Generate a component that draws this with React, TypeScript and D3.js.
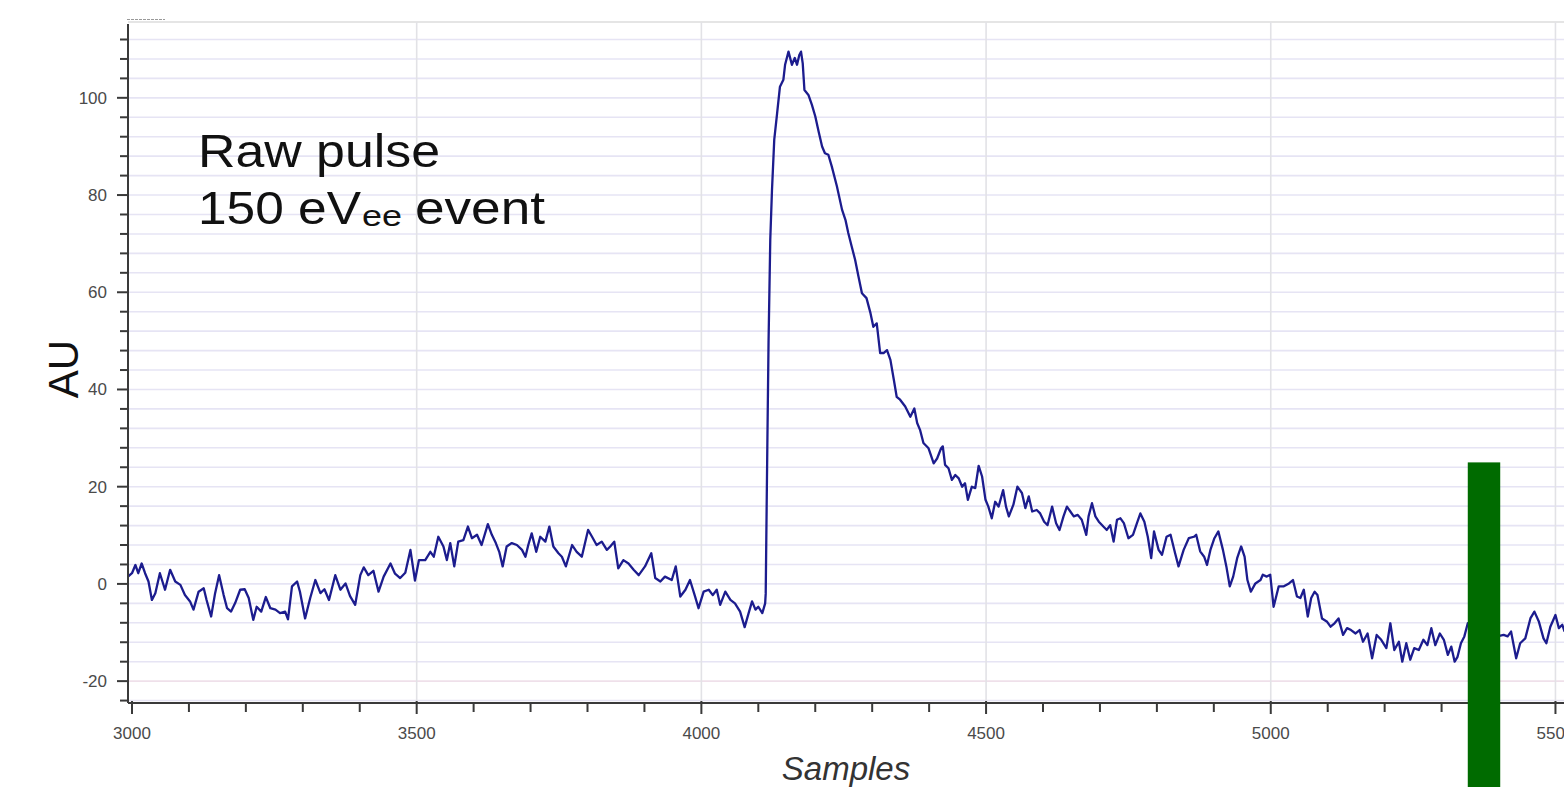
import React, { useCallback, useEffect, useRef } from 'react';
import * as d3 from 'd3';

// samples, [sample, AU]
const preTrigger: [number, number][] = [
  [2993, 1.5], [3000, 2.2], [3006, 3.9], [3011, 2.2], [3017, 4.2], [3023, 2.2], [3029, 0.5], [3035, -3.3],
  [3041, -1.9], [3049, 2.2], [3058, -1.2], [3067, 2.9], [3076, 0.5], [3085, -0.2], [3093, -2.3], [3102, -3.6],
  [3108, -5.3], [3117, -1.6], [3126, -0.9], [3131, -3.3], [3139, -6.7], [3146, -1.9], [3153, 1.8], [3161, -2.3],
  [3167, -5], [3174, -5.7], [3181, -4], [3190, -1.2], [3198, -1.1], [3205, -2.9], [3213, -7.4], [3219, -4.7],
  [3227, -5.7], [3235, -2.7], [3243, -5], [3252, -5.3], [3260, -6], [3269, -5.7], [3274, -7.3], [3281, -0.5],
  [3290, 0.5], [3295, -1.6], [3304, -7.1], [3313, -2.9], [3322, 0.8], [3331, -1.9], [3338, -1.1], [3346, -3.3],
  [3357, 1.8], [3366, -1.2], [3375, 0.1], [3383, -2.5], [3392, -4.3], [3401, 1.8], [3407, 3.4], [3415, 1.8],
  [3424, 2.7], [3433, -1.6], [3442, 1.5], [3454, 4.2], [3462, 2.1], [3471, 1.2], [3480, 2.3], [3489, 7],
  [3497, 0.7], [3504, 4.9], [3515, 4.9], [3524, 6.6], [3530, 5.6], [3538, 9.7], [3547, 7.7], [3553, 4.9],
  [3559, 8.4], [3566, 3.6], [3573, 8.7], [3582, 9], [3590, 11.8], [3597, 9.4], [3606, 10.1], [3614, 8],
  [3625, 12.3], [3632, 10.1], [3639, 8.4], [3645, 6.6], [3651, 3.6], [3658, 7.7], [3667, 8.4], [3676, 8],
  [3685, 7], [3691, 5.6], [3696, 8], [3702, 10.4], [3710, 6.6], [3717, 9.7], [3726, 8.7], [3733, 11.8],
  [3740, 7.7], [3749, 6.3], [3755, 5.6], [3762, 3.6], [3773, 8], [3781, 6.6], [3790, 5.6], [3801, 11.1],
  [3808, 9.7], [3816, 8], [3825, 8.7], [3834, 7], [3840, 7.7], [3847, 8.7], [3854, 3.2], [3863, 4.9],
  [3872, 4.2], [3881, 2.9], [3890, 1.8], [3901, 3.6], [3912, 6.3], [3919, 1.2], [3928, 0.5], [3936, 1.5],
  [3948, 0.8], [3955, 3.6], [3963, -2.6], [3972, -1.2], [3980, 0.8], [3989, -2.6], [3995, -5], [4004, -1.6],
  [4013, -1.2], [4020, -2.3], [4027, -1.2], [4033, -4.3], [4042, -1.6], [4051, -3.3], [4059, -4], [4068, -5.7],
  [4076, -8.9], [4083, -6], [4089, -3.6], [4095, -5.3], [4100, -4.7], [4107, -6], [4112, -4],
];

const rise: [number, number][] = [
  [4113, -2], [4114, 9], [4116, 30], [4118, 50], [4121, 70.8], [4124, 81], [4128, 91.4], [4133, 96.8],
  [4138, 102.3], [4144, 103.7], [4147, 106.8], [4153, 109.5], [4159, 106.8], [4164, 108.2], [4168, 106.8],
  [4172, 108.8], [4175, 109.5], [4178, 107.1], [4181, 101.6],
];

const decay: [number, number][] = [
  [4188, 100.6], [4194, 98.6], [4200, 96.2], [4206, 93], [4212, 90], [4217, 88.6], [4223, 88.3], [4229, 85.9],
  [4238, 81.8], [4247, 77], [4253, 74.9], [4258, 72.2], [4264, 69.4], [4270, 66.7], [4276, 63.2], [4282, 59.8],
  [4290, 58.8], [4297, 55.7], [4302, 52.9], [4308, 53.6], [4314, 47.5], [4320, 47.5], [4326, 48.1], [4332, 46.1],
  [4338, 42], [4343, 38.5], [4349, 37.9], [4358, 36.5], [4367, 34.4], [4374, 36.1], [4379, 33.1], [4384, 31.7],
  [4390, 29], [4399, 27.9], [4408, 24.8], [4414, 25.8], [4421, 27.9], [4424, 28.3], [4428, 24.5], [4434, 23.8],
  [4440, 21.4], [4446, 22.4], [4452, 21.7], [4458, 20], [4463, 20.7], [4468, 17.3], [4475, 20], [4481, 19.7],
  [4487, 24.3], [4493, 22.1], [4499, 17.3], [4504, 15.9],
];

const tail: [number, number][] = [
  [4510, 13.5], [4516, 16.9], [4522, 15.9], [4530, 19.3], [4535, 15.9], [4540, 13.9], [4548, 16.3], [4555, 20],
  [4563, 18.7], [4569, 15.6], [4575, 18], [4581, 14.9], [4589, 15.2], [4595, 14.5], [4602, 12.8], [4608, 12.1],
  [4616, 15.9], [4623, 12.5], [4629, 11.1], [4636, 13.9], [4642, 15.9], [4648, 14.9], [4654, 13.9], [4661, 14.2],
  [4668, 13.2], [4676, 10.1], [4680, 13.9], [4686, 16.6], [4692, 13.9], [4698, 12.8], [4706, 11.8], [4712, 11.1],
  [4718, 12.1], [4724, 8.7], [4730, 13.2], [4736, 13.5], [4742, 12.5], [4750, 9.4], [4758, 10.1], [4765, 12.5],
  [4771, 14.5], [4778, 12.8], [4784, 9.7], [4790, 5.3], [4795, 10.8], [4803, 7], [4809, 6], [4817, 9.7],
  [4824, 10.1], [4832, 6.3], [4838, 3.6], [4847, 7], [4856, 9.4], [4865, 9.7], [4869, 10.1], [4876, 6.7],
  [4883, 5.6], [4888, 3.9], [4894, 7], [4901, 9.4], [4908, 10.8], [4916, 7], [4922, 3.6], [4928, -0.5],
  [4934, 1.5], [4941, 5.3], [4948, 7.7], [4954, 5.6], [4959, 0.8], [4965, -1.6], [4973, 0.1], [4982, 0.8],
  [4986, 1.9], [4993, 1.5], [4999, 1.9], [5005, -4.7], [5014, -0.5], [5023, -0.5], [5032, 0.1], [5039, 0.8],
  [5046, -2.6], [5052, -2.9], [5058, -1.2], [5065, -6.7], [5071, -2.9], [5077, -1.6], [5082, -2.3], [5090, -7.1],
  [5099, -7.8], [5105, -8.8], [5112, -8.1], [5119, -7.1], [5127, -10.5], [5134, -9.1], [5141, -9.5], [5149, -10.2],
  [5156, -9.5], [5162, -11.9], [5170, -10.2], [5178, -15.3], [5186, -10.5], [5194, -11.5], [5203, -13.2], [5210, -8.1],
  [5217, -13.6], [5225, -11.9], [5231, -16], [5238, -12.2], [5245, -15.6], [5252, -13.2], [5260, -13.6], [5268, -11.5],
  [5275, -12.6], [5282, -9.1], [5289, -12.6], [5297, -10.2], [5304, -11.5], [5311, -14.6], [5317, -12.9], [5323, -16],
  [5328, -15], [5334, -12.2], [5340, -10.8], [5346, -8.1], [5360, -10], [5375, -8], [5390, -11], [5409, -10.5],
  [5416, -10.8], [5422, -9.8], [5431, -15.3], [5438, -12.2], [5447, -11.2], [5456, -7.1], [5463, -5.7], [5471, -7.8],
  [5479, -11.2], [5484, -12.2], [5491, -8.8], [5500, -6.4], [5506, -9.1], [5512, -8.4], [5516, -9.8],
];

const xMajor = [3000, 3500, 4000, 4500, 5000, 5500];
const yMajor = [-20, 0, 20, 40, 60, 80, 100];
const xDomain: [number, number] = [2993, 5515];
const yDomain: [number, number] = [-24.5, 115.6];

// green marker bar, in samples / AU
const markerSpan: [number, number] = [5346, 5403];
const markerTop = 25;

const W = 1564;
const H = 787;

const PulseChart = () => {
  const svgRef = useRef<SVGSVGElement>(null);

  const drawChart = useCallback(() => {
    const svg = d3.select(svgRef.current);
    svg.selectAll('*').remove();

    const left = 128;
    const right = W;
    const top = 22;
    const bottom = 703;

    const x = d3.scaleLinear().domain(xDomain).range([left, right]);
    const y = d3.scaleLinear().domain(yDomain).range([bottom, top]);

    svg.append('rect').attr('width', W).attr('height', H).attr('fill', '#fff');

    const minorY = d3.range(-24, 113, 4);
    const minorX = d3.range(3000, 5501, 100);

    // grid
    const grid = svg.append('g');
    grid
      .selectAll('line.h')
      .data(minorY)
      .enter()
      .append('line')
      .attr('x1', left)
      .attr('x2', right)
      .attr('y1', (d) => y(d))
      .attr('y2', (d) => y(d))
      .attr('stroke', (d) => (d === -20 ? '#efe0ea' : '#e6e4f4'))
      .attr('stroke-width', 1.6);
    grid
      .append('line')
      .attr('x1', left)
      .attr('x2', right)
      .attr('y1', top)
      .attr('y2', top)
      .attr('stroke', '#dcdcdc')
      .attr('stroke-width', 1.5);
    grid
      .selectAll('line.v')
      .data(xMajor.filter((d) => d > 3000))
      .enter()
      .append('line')
      .attr('x1', (d) => x(d))
      .attr('x2', (d) => x(d))
      .attr('y1', top)
      .attr('y2', bottom)
      .attr('stroke', '#e2e2e6')
      .attr('stroke-width', 1.6);

    // small dashed mark at top-left corner
    svg
      .append('line')
      .attr('x1', 127)
      .attr('x2', 165)
      .attr('y1', 19.5)
      .attr('y2', 19.5)
      .attr('stroke', '#999')
      .attr('stroke-dasharray', '3,1')
      .attr('stroke-width', 1);

    // trace
    const trace = [...preTrigger, ...rise, ...decay, ...tail];
    svg
      .append('clipPath')
      .attr('id', 'plot-clip')
      .append('rect')
      .attr('x', left)
      .attr('y', top)
      .attr('width', right - left)
      .attr('height', bottom - top);
    const line = d3
      .line<[number, number]>()
      .x((d) => x(d[0]))
      .y((d) => y(d[1]));
    svg
      .append('path')
      .datum(trace)
      .attr('clip-path', 'url(#plot-clip)')
      .attr('d', line)
      .attr('fill', 'none')
      .attr('stroke', '#1c1c8e')
      .attr('stroke-width', 2.3)
      .attr('stroke-linejoin', 'round');

    // axes
    const axisColor = '#3a3a3a';
    const labelColor = '#4a4a4a';
    const yAxis = svg.append('g');
    yAxis
      .append('line')
      .attr('x1', left)
      .attr('x2', left)
      .attr('y1', top + 2)
      .attr('y2', bottom)
      .attr('stroke', axisColor)
      .attr('stroke-width', 2);
    yAxis
      .selectAll('line.t')
      .data(minorY)
      .enter()
      .append('line')
      .attr('x1', (d) => (yMajor.includes(d) ? left - 11 : left - 8))
      .attr('x2', left)
      .attr('y1', (d) => y(d))
      .attr('y2', (d) => y(d))
      .attr('stroke', axisColor)
      .attr('stroke-width', 2);
    yAxis
      .selectAll('text')
      .data(yMajor)
      .enter()
      .append('text')
      .attr('x', 107)
      .attr('y', (d) => y(d) + 6)
      .attr('text-anchor', 'end')
      .attr('font-family', 'Liberation Sans, Arial, sans-serif')
      .attr('font-size', 17)
      .attr('fill', labelColor)
      .text((d) => d);

    const xAxis = svg.append('g');
    xAxis
      .append('line')
      .attr('x1', left)
      .attr('x2', right)
      .attr('y1', bottom)
      .attr('y2', bottom)
      .attr('stroke', axisColor)
      .attr('stroke-width', 2.2);
    xAxis
      .selectAll('line.t')
      .data(minorX)
      .enter()
      .append('line')
      .attr('x1', (d) => x(d))
      .attr('x2', (d) => x(d))
      .attr('y1', (d) => (xMajor.includes(d) ? bottom - 2 : bottom))
      .attr('y2', (d) => (xMajor.includes(d) ? bottom + 11 : bottom + 9))
      .attr('stroke', axisColor)
      .attr('stroke-width', 2);
    xAxis
      .selectAll('text')
      .data(xMajor)
      .enter()
      .append('text')
      .attr('x', (d) => x(d))
      .attr('y', 739)
      .attr('text-anchor', 'middle')
      .attr('font-family', 'Liberation Sans, Arial, sans-serif')
      .attr('font-size', 17)
      .attr('fill', labelColor)
      .text((d) => d);

    // axis titles
    svg
      .append('text')
      .attr('transform', 'translate(78,369) rotate(-90)')
      .attr('text-anchor', 'middle')
      .attr('font-family', 'Liberation Sans, Arial, sans-serif')
      .attr('font-size', 42)
      .attr('fill', '#111')
      .text('AU');
    svg
      .append('text')
      .attr('x', 846)
      .attr('y', 780)
      .attr('text-anchor', 'middle')
      .attr('font-family', 'Liberation Sans, Arial, sans-serif')
      .attr('font-style', 'italic')
      .attr('font-size', 33)
      .attr('fill', '#333')
      .text('Samples');

    // annotation
    const note = svg.append('g').attr('font-family', 'Liberation Sans, Arial, sans-serif').attr('fill', '#111');
    note
      .append('text')
      .attr('x', 198)
      .attr('y', 167)
      .attr('font-size', 46)
      .attr('textLength', 242)
      .attr('lengthAdjust', 'spacingAndGlyphs')
      .text('Raw pulse');
    note
      .append('text')
      .attr('x', 198)
      .attr('y', 224)
      .attr('font-size', 46)
      .attr('textLength', 163)
      .attr('lengthAdjust', 'spacingAndGlyphs')
      .text('150 eV');
    note
      .append('text')
      .attr('x', 362)
      .attr('y', 226)
      .attr('font-size', 30)
      .attr('textLength', 40)
      .attr('lengthAdjust', 'spacingAndGlyphs')
      .text('ee');
    note
      .append('text')
      .attr('x', 415)
      .attr('y', 224)
      .attr('font-size', 46)
      .attr('textLength', 130)
      .attr('lengthAdjust', 'spacingAndGlyphs')
      .text('event');

    // green marker
    svg
      .append('rect')
      .attr('x', x(markerSpan[0]))
      .attr('y', y(markerTop))
      .attr('width', x(markerSpan[1]) - x(markerSpan[0]))
      .attr('height', H - y(markerTop))
      .attr('fill', '#006b00');
  }, []);

  useEffect(() => {
    drawChart();
  }, [drawChart]);

  return <svg ref={svgRef} width={W} height={H} style={{ position: 'absolute', left: 0, top: 0 }} />;
};

export default function App() {
  return <PulseChart />;
}
